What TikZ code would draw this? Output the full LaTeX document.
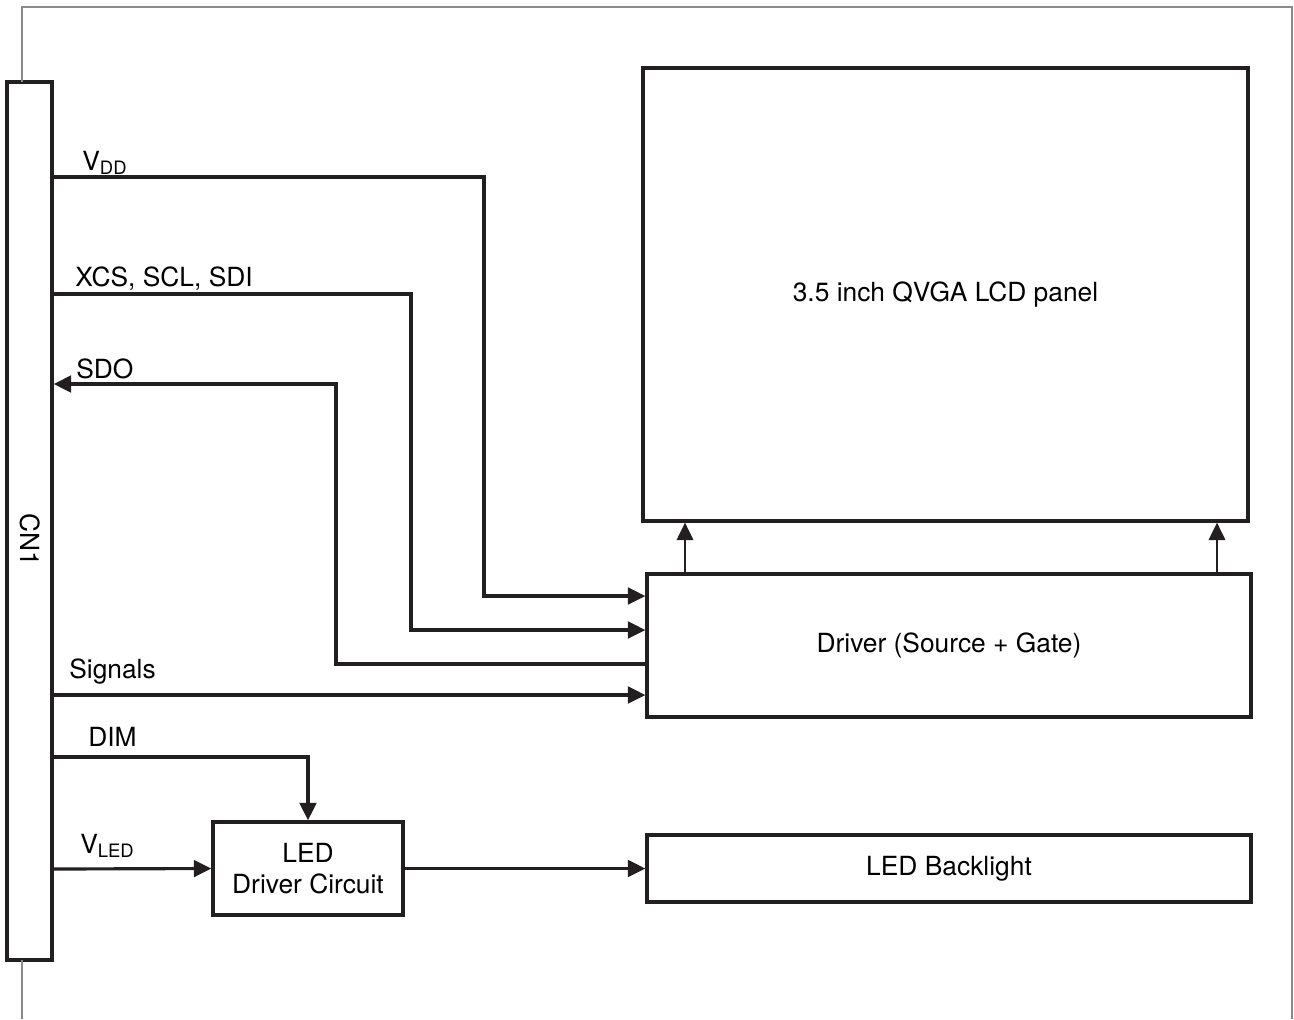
\documentclass[tikz,border=0pt]{standalone}
\usepackage{fontspec}
\setmainfont{TeX Gyre Heros}
\usetikzlibrary{arrows.meta,positioning}
\definecolor{ink}{HTML}{231F20}
\definecolor{frame}{HTML}{8A8A8A}

\begin{document}
\begin{tikzpicture}[x=0.02cm,y=-0.02cm,>={Triangle[length=10pt,width=9.5pt]},
  block/.style={draw=ink,line width=1.9pt,rectangle,inner sep=0pt,align=center,
    font=\fontsize{15}{18}\selectfont},
  wire/.style={draw=ink,line width=1.8pt},
  thinwire/.style={draw=ink,line width=1pt},
  lbl/.style={anchor=base west,inner sep=0pt,font=\fontsize{15}{18}\selectfont}]
  \useasboundingbox (0,0) rectangle (1294,1019);

  % blocks
  \node[block,minimum width=0.9cm,minimum height=17.56cm] (cn1) at (29.5,521) {};
  \node[rotate=-90,inner sep=0pt,font=\fontsize{15}{18}\selectfont] (cn1lbl) at (30,540) {CN1};
  \node[block,minimum width=12.1cm,minimum height=9.06cm] (lcd) at (945.5,294.5) {3.5 inch QVGA LCD panel};
  \node[block,minimum width=12.08cm,minimum height=2.86cm] (drv) at (949,645.5) {Driver (Source + Gate)};
  \node[block,minimum width=3.8cm,minimum height=1.86cm] (leddrv) at (308,868.5) {LED\\Driver Circuit};
  \node[block,minimum width=12.08cm,minimum height=1.34cm] (blight) at (949,868.5) {LED Backlight};

  % outer frame
  \draw[frame,line width=0.9pt] (22,82) -- (22,7) -- (1292,7) -- (1292,1019);
  \draw[frame,line width=0.9pt] (22,960) -- (22,1019);

  % signal lines
  \draw[wire,->] (cn1.east |- 0,177) -- (484,177) |- (drv.west |- 0,596);
  \draw[wire,->] (cn1.east |- 0,294) -- (411,294) |- (drv.west |- 0,630);
  \draw[wire,->] (drv.west |- 0,664) -- (336,664) |- (cn1.east |- 0,384);
  \draw[wire,->] (cn1.east |- 0,695) -- (drv.west |- 0,695);
  \draw[wire,->] (cn1.east |- 0,757) -| (leddrv.north);
  \draw[wire,->] (cn1.east |- 0,869) -- (leddrv.west);
  \draw[wire,->] (leddrv.east) -- (blight.west);

  % driver to panel
  \draw[thinwire,->] (drv.north -| 685,0) -- (lcd.south -| 685,0);
  \draw[thinwire,->] (drv.north -| 1217,0) -- (lcd.south -| 1217,0);

  % labels
  \node[lbl] (vdd) at (82,170) {V\textsubscript{DD}};
  \node[lbl] (xcs) at (75,286) {XCS, SCL, SDI};
  \node[lbl] (sdo) at (76,378) {SDO};
  \node[lbl] (sig) at (69,678) {Signals};
  \node[lbl] (dim) at (88,746) {DIM};
  \node[lbl] (vled) at (80,853) {V\textsubscript{LED}};
\end{tikzpicture}
\end{document}
